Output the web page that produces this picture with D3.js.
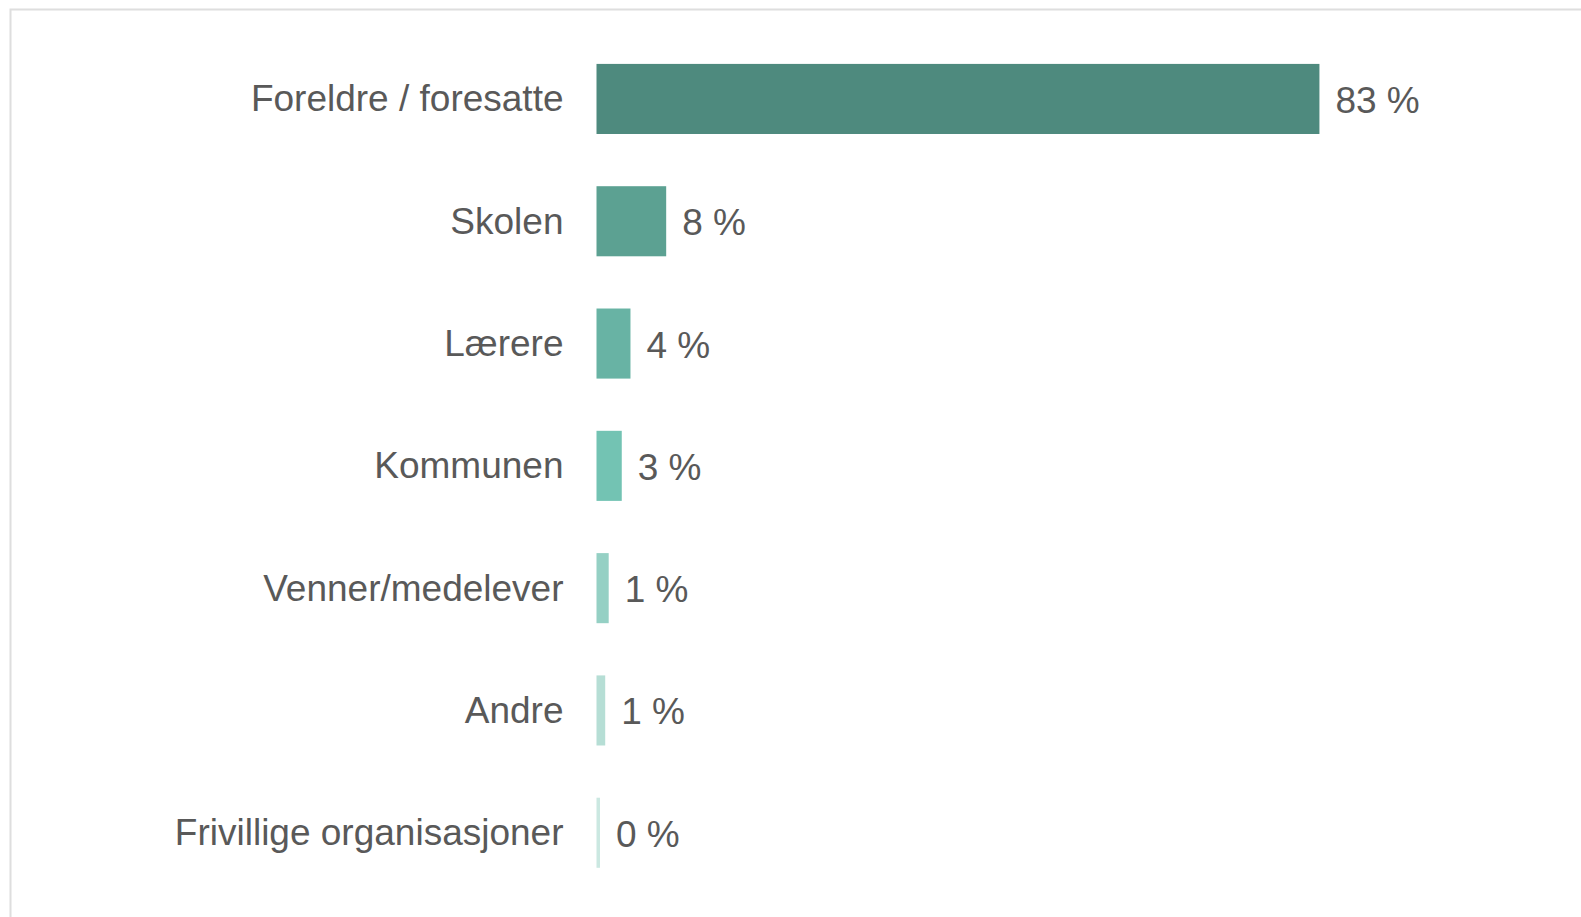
<!DOCTYPE html>
<html>
<head>
<meta charset="utf-8">
<script src="https://cdn.jsdelivr.net/npm/d3@7"></script>
<style>
    html, body { margin: 0; padding: 0; background: #fff; }
    svg { display: block; }
    text { font-family: "Liberation Sans", Arial, sans-serif; fill: #595959; }
</style>
</head>
<body>
<svg width="1581" height="917"></svg>
<script>
// categories, top to bottom
var categories = ["Foreldre / foresatte", "Skolen", "Lærere", "Kommunen",
    "Venner/medelever", "Andre", "Frivillige organisasjoner"];

// share in percent
var values = [83.0, 8.0, 3.9, 2.9, 1.4, 1.0, 0.4];

// bar fill, dark to light
var barColors = ["#4e8a7e", "#5ca192", "#68b3a4", "#73c3b3", "#95d0c4", "#b6ded5", "#cbe8e1"];

var svg = d3.select("svg"),
    width = +svg.attr("width"),
    height = +svg.attr("height");

// light frame round the chart area
svg.append("rect")
    .attr("x", 10.5)
    .attr("y", 9.5)
    .attr("width", width)
    .attr("height", height)
    .attr("fill", "none")
    .attr("stroke", "#dedede")
    .attr("stroke-width", 2);

var x = d3.scaleLinear()
    .domain([0, 100])
    .range([596.5, 596.5 + 871]);

var y = d3.scaleBand()
    .domain(categories)
    .range([37.8, 893.9])
    .paddingInner(0.427)
    .paddingOuter(0.2135);

var row = svg.append("g")
    .attr("class", "bars")
    .selectAll("g")
    .data(categories)
    .enter().append("g");

row.append("rect")
    .attr("x", x(0))
    .attr("y", function (d) { return y(d); })
    .attr("width", function (d, i) { return x(values[i]) - x(0); })
    .attr("height", y.bandwidth())
    .attr("fill", function (d, i) { return barColors[i]; });

// category names, right aligned before the bars
row.append("text")
    .attr("x", x(0) - 33)
    .attr("y", function (d) { return y(d) + y.bandwidth() / 2 + 12.5; })
    .attr("text-anchor", "end")
    .style("font-size", "37px")
    .text(function (d) { return d; });

// value labels after each bar
row.append("text")
    .attr("x", function (d, i) { return x(values[i]) + 16; })
    .attr("y", function (d) { return y(d) + y.bandwidth() / 2 + 14; })
    .style("font-size", "37px")
    .text(function (d, i) { return Math.round(values[i]) + " %"; });
</script>
</body>
</html>
